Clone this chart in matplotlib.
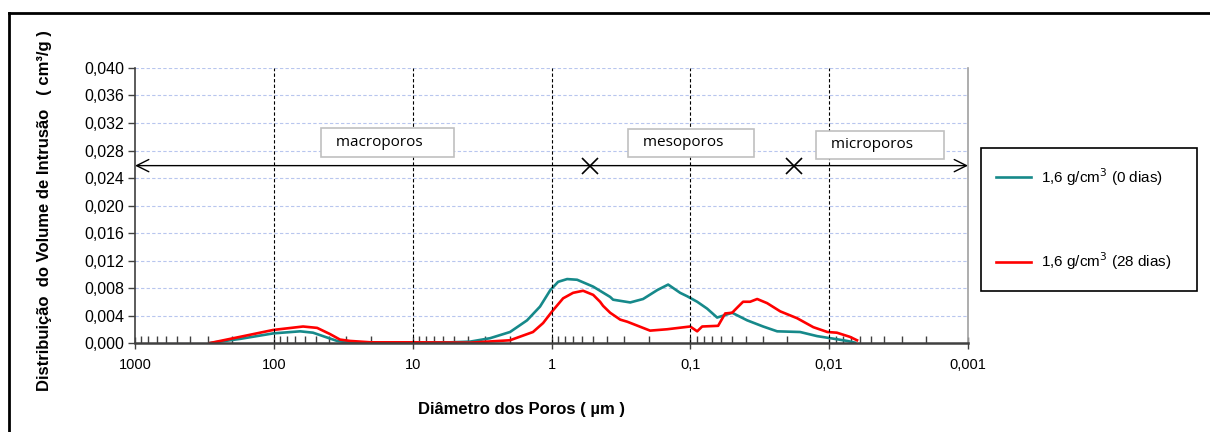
import matplotlib.pyplot as plt
import numpy as np
from matplotlib.lines import Line2D
from matplotlib.patches import Rectangle
from matplotlib.ticker import FuncFormatter, LogLocator, NullFormatter

# diametro dos poros (um) e distribuicao do volume de intrusao (cm3/g)
d_0dias = [288, 175, 101, 64.7, 52.2, 41.4, 35.0, 29.7, 10, 5.38, 3.86, 2.77,
           1.99, 1.50, 1.21, 1.02, 0.896, 0.772, 0.654, 0.501, 0.378, 0.360,
           0.271, 0.219, 0.173, 0.1445, 0.1185, 0.1054, 0.0893, 0.0757, 0.0641,
           0.0500, 0.0390, 0.0299, 0.0237, 0.0162, 0.0122, 0.0098, 0.0074, 0.0065]
v_0dias = [0, 0.0006, 0.0014, 0.0017, 0.0015, 0.0008, 0.0003, 0.0001, 0.0001,
           0.0001, 0.0002, 0.0007, 0.0016, 0.0033, 0.0053, 0.0077, 0.0089,
           0.0093, 0.0092, 0.0082, 0.0067, 0.0063, 0.0059, 0.0064, 0.0077,
           0.0085, 0.0073, 0.0068, 0.0060, 0.0050, 0.0037, 0.0044, 0.0033,
           0.0024, 0.0017, 0.0016, 0.0010, 0.0007, 0.0003, 0.00005]

d_28dias = [288, 175, 101, 61.6, 48.8, 39.4, 33.4, 28.2, 20, 10, 3.86, 1.99,
            1.36, 1.15, 0.99, 0.825, 0.699, 0.592, 0.501, 0.447, 0.425, 0.378,
            0.320, 0.285, 0.195, 0.147, 0.1003, 0.0893, 0.0822, 0.0631, 0.0561,
            0.0500, 0.0452, 0.0417, 0.0371, 0.0330, 0.0280, 0.0225, 0.0170,
            0.0130, 0.0103, 0.0088, 0.0071, 0.0063]
v_28dias = [0, 0.0009, 0.0019, 0.0024, 0.0022, 0.0013, 0.0005, 0.0003, 0.0001,
            0.0001, 0.00005, 0.0004, 0.0016, 0.0029, 0.0046, 0.0065, 0.0073,
            0.0076, 0.0070, 0.0060, 0.0054, 0.0044, 0.0034, 0.0031, 0.0018,
            0.0020, 0.0024, 0.0017, 0.0024, 0.0025, 0.0043, 0.0044, 0.0053,
            0.0060, 0.0060, 0.0064, 0.0058, 0.0046, 0.0036, 0.0023, 0.0016,
            0.0015, 0.0009, 0.0004]

x_ticks = [1000, 100, 10, 1, 0.1, 0.01, 0.001]
x_labels = ['1000', '100', '10', '1', '0,1', '0,01', '0,001']
y_ticks = np.arange(0, 0.0401, 0.004)

# faixas de poros
limites = [0.53, 0.018]
y_seta = 0.0258
zonas = ['macroporos', 'mesoporos', 'microporos']
zonas_x = [40.7, 0.250, 0.01105]
zonas_y = [0.0292, 0.0291, 0.0288]

teal = '#16898a'
vermelho = '#ff0000'
narrow = ['Liberation Sans Narrow', 'Liberation Sans', 'DejaVu Sans']

fig = plt.figure(figsize=(12.1, 4.32), dpi=100)
ax = fig.add_axes([0.1116, 0.206, 0.6884, 0.6366])

ax.plot(d_0dias, v_0dias, color=teal, lw=1.9, label='1,6 g/cm$^3$ (0 dias)')
ax.plot(d_28dias, v_28dias, color=vermelho, lw=1.9, label='1,6 g/cm$^3$ (28 dias)')

ax.set_xscale('log')
ax.set_xlim(1000, 0.001)
ax.set_ylim(0, 0.040)
ax.set_xticks(x_ticks)
ax.set_xticklabels(x_labels, family=narrow, fontsize=10.5)
ax.xaxis.set_minor_locator(LogLocator(base=10, subs=np.arange(2, 10)))
ax.xaxis.set_minor_formatter(NullFormatter())
ax.set_yticks(y_ticks)
ax.yaxis.set_major_formatter(FuncFormatter(lambda v, p: f'{v:.3f}'.replace('.', ',')))
for t in ax.get_yticklabels():
    t.set_family('Liberation Sans')
    t.set_fontsize(11.5)

ax.tick_params(axis='x', which='major', direction='inout', length=9, width=1, color='#404040', pad=6)
ax.tick_params(axis='x', which='minor', direction='in', length=5, width=1, color='#404040')
ax.tick_params(axis='y', which='major', direction='out', length=5, width=1, color='#404040', pad=3)

ax.grid(axis='y', color='#b8c6ee', ls=(0, (3, 2)), lw=0.8)
for xv in x_ticks[1:-1]:
    ax.axvline(xv, color='black', ls=(0, (3, 2)), lw=0.8)

ax.spines['top'].set_visible(False)
ax.spines['right'].set_color('#a0a0a0')
ax.spines['right'].set_linewidth(1.2)
ax.spines['left'].set_color('#404040')
ax.spines['left'].set_linewidth(1.2)
ax.spines['bottom'].set_color('#404040')
ax.spines['bottom'].set_linewidth(1.8)

# seta horizontal e limites
ax.annotate('', xy=(0.001, y_seta), xytext=(1000, y_seta),
            arrowprops=dict(arrowstyle='<->', color='black', lw=1, mutation_scale=22,
                            shrinkA=0, shrinkB=0))
ax.plot(limites, [y_seta] * len(limites), 'x', color='black', ms=11, mew=1.2)

for nome, xz, yz in zip(zonas, zonas_x, zonas_y):
    ax.text(xz, yz, '  ' + nome + '      ', ha='left', va='center', fontsize=11,
            family='Open Sans',
            bbox=dict(boxstyle='square,pad=0.45', fc='white', ec='#c0c0c0', lw=1.2))

# legenda
fig.patches.append(Rectangle((0.8107, 0.3264), 0.1785, 0.331, transform=fig.transFigure,
                             fill=False, ec='black', lw=1.2))
ax.legend(loc='upper left', bbox_to_anchor=(0.8115, 0.648), bbox_transform=fig.transFigure,
          frameon=False, prop={'family': 'Liberation Sans', 'size': 11},
          handlelength=2.3, handletextpad=0.7, labelspacing=4.1)

fig.text(0.431, 0.051, 'Diâmetro dos Poros ( µm )', ha='center', va='center',
         fontsize=12, fontweight='bold', family=narrow)
fig.text(0.037, 0.512, 'Distribuição  do Volume de Intrusão   ( cm³/g )', ha='center',
         va='center', rotation=90, fontsize=12, fontweight='bold', family='Liberation Sans')

# moldura externa
fig.add_artist(Line2D([0.0074, 0.0074], [0, 0.971], transform=fig.transFigure, color='black', lw=2))
fig.add_artist(Line2D([0.0074, 1], [0.971, 0.971], transform=fig.transFigure, color='black', lw=2))

fig.savefig('out.png', dpi=100)
